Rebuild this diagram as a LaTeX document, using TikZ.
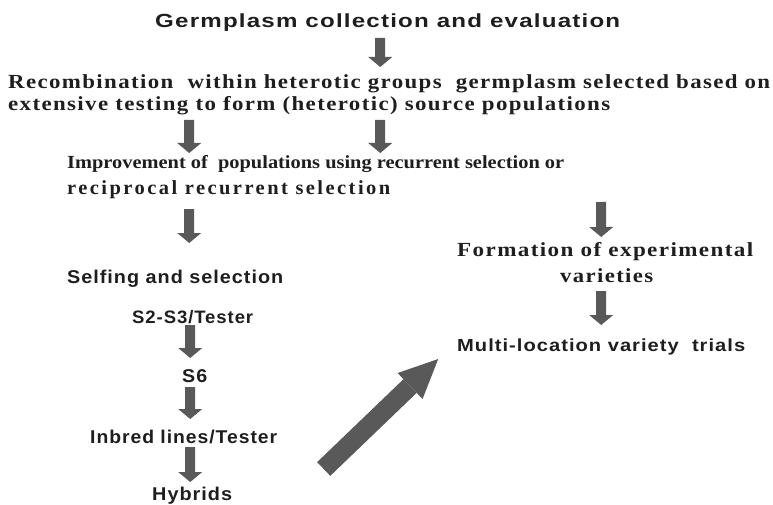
\documentclass[tikz,border=0pt]{standalone}
\usepackage{graphicx}
\usepackage{fontspec}
\usetikzlibrary{arrows.meta}
\newfontfamily\sansf[LetterSpace=5]{Liberation Sans}
\newfontfamily\seriff[LetterSpace=6]{Liberation Serif}
\newfontfamily\seriftight[LetterSpace=0]{Liberation Serif}
\newfontfamily\serifwide[LetterSpace=12]{Liberation Serif}
\definecolor{arrowgray}{HTML}{595959}
\definecolor{txtcol}{HTML}{1E1E1E}
\newcommand\fitw[2]{\resizebox{#1pt}{\height}{#2}}
\tikzset{
  sanstxt/.style={anchor=base west, inner sep=0pt, text=txtcol, font=\sansf\bfseries\fontsize{18.5}{22}\selectfont},
  seriftxt/.style={anchor=base west, inner sep=0pt, text=txtcol, font=\seriff\bfseries\fontsize{20}{24}\selectfont},
  barrow/.style={draw=arrowgray, line width=10pt, -{Triangle[width=24pt,length=10pt,line width=0pt,fill=arrowgray]}},
  bigarrow/.style={draw=arrowgray, line width=19pt, -{Triangle[width=36pt,length=39pt,line width=0pt,fill=arrowgray]}}
}
\begin{document}
\begin{tikzpicture}[x=1pt,y=-1pt]
\useasboundingbox (0,0) rectangle (773,505);
% texts
\node[sanstxt, font=\sansf\bfseries\fontsize{19}{22}\selectfont] (title) at (155,28) {\fitw{465}{Germplasm collection and evaluation}};
\node[seriftxt] (rec1) at (8,89) {\fitw{762}{Recombination\ \ within heterotic groups\ \ germplasm selected based on}};
\node[seriftxt] (rec2) at (8,111) {\fitw{602}{extensive testing to form (heterotic) source populations}};
\node[seriftxt, font=\seriftight\bfseries\fontsize{18.5}{24}\selectfont] (imp1) at (67,169) {\fitw{497}{Improvement of\ \ populations using recurrent selection or}};
\node[seriftxt, font=\serifwide\bfseries\fontsize{20}{24}\selectfont] (imp2) at (67,194) {\fitw{323}{reciprocal recurrent selection}};
\node[sanstxt] (self) at (67,283) {\fitw{216}{Selfing and selection}};
\node[sanstxt, font=\sansf\bfseries\fontsize{18}{22}\selectfont] (s23) at (132,323) {\fitw{121}{S2-S3/Tester}};
\node[sanstxt] (s6) at (182,382) {\fitw{25}{S6}};
\node[sanstxt] (inbred) at (90,443) {\fitw{187}{Inbred lines/Tester}};
\node[sanstxt] (hybrids) at (152,500) {\fitw{80}{Hybrids}};
\node[seriftxt] (form1) at (457,256) {\fitw{296}{Formation of experimental}};
\node[seriftxt] (form2) at (560,282) {\fitw{93}{varieties}};
\node[sanstxt, font=\sansf\bfseries\fontsize{17.5}{22}\selectfont] (multi) at (457,351) {\fitw{288}{Multi-location variety\ \ trials}};
% arrows
\draw[barrow] ([xshift=-7.5pt,yshift=-10pt]title.base) -- ([xshift=-9pt,yshift=22pt]rec1.base);
\draw[barrow] ([xshift=-120pt,yshift=-9pt]rec2.base) -- ([xshift=-126.5pt,yshift=16pt]imp1.base);
\draw[barrow] ([xshift=71pt,yshift=-9pt]rec2.base) -- ([xshift=64.5pt,yshift=16pt]imp1.base);
\draw[barrow] ([xshift=-39.5pt,yshift=-15pt]imp2.base) -- ([xshift=14pt,yshift=40pt]self.base);
\draw[barrow] ([xshift=-2.5pt,yshift=-2pt]s23.base) -- ([xshift=-4.5pt,yshift=24pt]s6.base);
\draw[barrow] ([xshift=-4.5pt,yshift=-5pt]s6.base) -- ([xshift=6.5pt,yshift=24pt]inbred.base);
\draw[barrow] ([xshift=6.5pt,yshift=-4pt]inbred.base) -- ([xshift=-2pt,yshift=18pt]hybrids.base);
\draw[barrow] ([xshift=285.5pt,yshift=-33pt]imp1.base) -- ([xshift=-4pt,yshift=19pt]form1.base);
\draw[barrow] ([xshift=-5.5pt,yshift=-9pt]form2.base) -- ([xshift=0pt,yshift=26pt]multi.base);
\draw[bigarrow] ([xshift=131.5pt,yshift=31pt]hybrids.base) -- ([xshift=-163pt,yshift=-8pt]multi.base);
\end{tikzpicture}
\end{document}
